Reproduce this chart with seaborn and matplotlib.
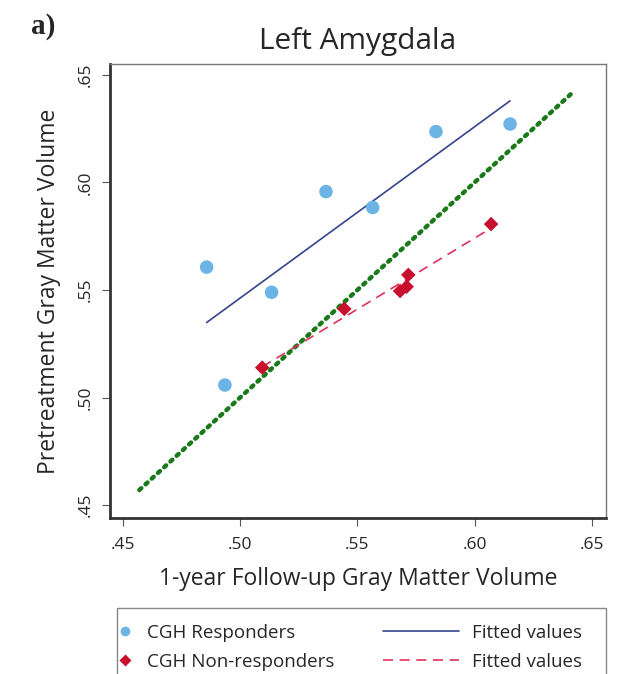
import matplotlib
matplotlib.use("Agg")
import matplotlib.pyplot as plt
import seaborn as sns
import pandas as pd
from matplotlib.lines import Line2D
from matplotlib.patches import Rectangle

# Data
resp_x = [0.4857, 0.4935, 0.5134, 0.5366, 0.5565, 0.5835, 0.6151]
resp_y = [0.5606, 0.5058, 0.5489, 0.5957, 0.5883, 0.6236, 0.6271]
nonresp_x = [0.5094, 0.5444, 0.5682, 0.5710, 0.5717, 0.6070]
nonresp_y = [0.5139, 0.5412, 0.5495, 0.5515, 0.5570, 0.5806]
identity_x = [0.457, 0.641]
identity_y = [0.457, 0.641]
ticks = [0.45, 0.50, 0.55, 0.60, 0.65]
tick_labels = [".45", ".50", ".55", ".60", ".65"]

sns.set_style("white")
plt.rcParams["font.family"] = ["Open Sans", "DejaVu Sans"]

W, H = 624, 674
fig = plt.figure(figsize=(W/100, H/100), dpi=100)
ax = fig.add_axes([110/W, 1 - 518/H, (606-110)/W, (518-64)/H])

resp = pd.DataFrame({"x": resp_x, "y": resp_y})
nonresp = pd.DataFrame({"x": nonresp_x, "y": nonresp_y})
ident = pd.DataFrame({"x": identity_x, "y": identity_y})

blue_pt = "#6cb4e6"
red_pt = "#c8102e"
blue_ln = "#34448c"
red_ln = "#e0305a"
green = "#1a7a1a"

sns.lineplot(data=ident, x="x", y="y", ax=ax, color=green, lw=3.2,
             linestyle=(0, (0.6, 1.3)), dash_capstyle="round", zorder=2, legend=False)
sns.regplot(data=resp, x="x", y="y", ax=ax, scatter=False, ci=None,
            line_kws=dict(color=blue_ln, lw=1.2, zorder=3))
sns.regplot(data=nonresp, x="x", y="y", ax=ax, scatter=False, ci=None,
            line_kws=dict(color=red_ln, lw=1.2, ls=(0, (6, 4)), zorder=3))
sns.scatterplot(data=resp, x="x", y="y", ax=ax, color=blue_pt, s=95,
                edgecolor="none", zorder=4)
sns.scatterplot(data=nonresp, x="x", y="y", ax=ax, color=red_pt, marker="D", s=55,
                edgecolor="none", zorder=4)

ax.set_xlim(0.4445, 0.656)
ax.set_ylim(0.444, 0.655)
ax.set_xticks(ticks)
ax.set_xticklabels(tick_labels, fontsize=12.5)
ax.set_yticks(ticks)
ax.set_yticklabels(tick_labels, fontsize=12.5, rotation=90, va="center")
ax.tick_params(axis="both", direction="out", length=6, width=0.8, color="#555555",
               bottom=True, left=True)
ax.tick_params(axis="x", pad=8)
ax.tick_params(axis="y", pad=6)
for side in ["left", "bottom"]:
    ax.spines[side].set_linewidth(2.0)
    ax.spines[side].set_color("#333333")
for side in ["right", "top"]:
    ax.spines[side].set_linewidth(1.0)
    ax.spines[side].set_color("#777777")

ax.set_xlabel("1-year Follow-up Gray Matter Volume", fontsize=16.5, labelpad=10)
ax.set_ylabel("Pretreatment Gray Matter Volume", fontsize=16.5, labelpad=12)
ax.set_title("Left Amygdala", fontsize=21.5, pad=11)
fig.text(31/W, 1 - 27/H, "a)", fontsize=21, fontweight="bold",
         family=["Liberation Serif", "DejaVu Serif"], va="center", ha="left")

# legend frame
fig.patches.append(Rectangle((117/W, 1 - 690/H), (606-117)/W, (690-608)/H,
                             transform=fig.transFigure, fill=False,
                             edgecolor="#888888", lw=1.0, zorder=5))

mk_handles = [
    Line2D([], [], marker="o", color="none", markerfacecolor=blue_pt,
           markeredgecolor="none", markersize=7),
    Line2D([], [], marker="D", color="none", markerfacecolor=red_pt,
           markeredgecolor="none", markersize=6),
]
ln_handles = [
    Line2D([], [], color=blue_ln, lw=1.2),
    Line2D([], [], color=red_ln, lw=1.2, ls=(0, (6, 4))),
]
leg_kw = dict(loc="upper left", fontsize=13.5, frameon=False, borderaxespad=0,
              labelspacing=0.6, borderpad=0.4)
leg1 = fig.legend(mk_handles, ["CGH Responders", "CGH Non-responders"],
                  bbox_to_anchor=(108/W, 1 - 616/H), handlelength=1.0,
                  handletextpad=0.67, **leg_kw)
leg2 = fig.legend(ln_handles, ["Fitted values", "Fitted values"],
                  bbox_to_anchor=(375/W, 1 - 616/H), handlelength=4.1,
                  handletextpad=0.7, **leg_kw)

fig.savefig("out.png", dpi=100)
